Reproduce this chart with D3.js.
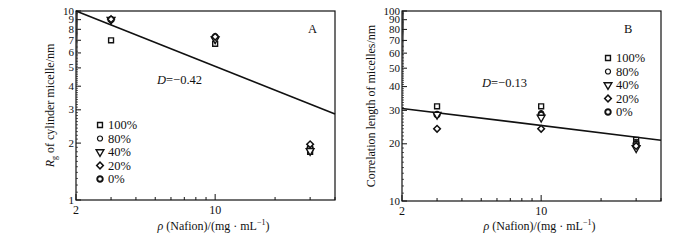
<!DOCTYPE html>
<html>
<head>
<meta charset="utf-8">
<script src="https://cdn.jsdelivr.net/npm/d3@7"></script>
<style>
  body { margin: 0; background: #fff; }
  text { font-family: "Liberation Serif", "Times New Roman", serif; fill: #111; }
</style>
</head>
<body>
<svg id="chart" width="700" height="240"></svg>
<script>
// Nafion concentration (mg/mL)
const conc = [3, 10, 30];
const seriesNames = ['100%', '80%', '40%', '20%', '0%'];

// panel A: Rg of cylinder micelle (nm)
const rg100 = [7.0, 6.7, 1.80];
const rg80  = [9.0, 7.2, 1.85];
const rg40  = [9.0, 7.1, 1.82];
const rg20  = [9.05, 7.3, 1.97];
const rg0   = [9.0, 7.3, 1.88];

// panel B: correlation length of micelles (nm)
const cl100 = [31.5, 31.5, 21.0];
const cl80  = [28.5, 29.0, 20.5];
const cl40  = [28.5, 27.5, 19.0];
const cl20  = [24.0, 24.0, 19.5];
const cl0   = [28.5, 28.5, 20.0];

// fitted power-law lines, end points at x = 2 and x = 40
const fitX = [2, 40];
const fitA = [10, 2.85];
const fitB = [30.7, 20.9];

const xTickLabels = [2, 10];
const yTicksA = [1, 2, 3, 4, 5, 6, 7, 8, 9, 10];
const yTicksB = [10, 20, 30, 40, 50, 60, 70, 80, 90, 100];

const svg = d3.select('#chart');
// square, small circle, down triangle, diamond (rotated square), bold circle
const symbols = [d3.symbolSquare, d3.symbolCircle, d3.symbolTriangle, d3.symbolSquare, d3.symbolCircle];
const sizes = [24, 20, 26, 22, 24];
const rotations = [0, 0, 180, 45, 0];
const strokes = [1.4, 1.2, 1.4, 1.5, 1.9];
const drawOrder = [0, 1, 4, 2, 3];

function marker(sel, i, cx, cy) {
  sel.attr('d', d3.symbol().type(symbols[i]).size(sizes[i]))
    .attr('transform', `translate(${cx},${cy}) rotate(${rotations[i]})`)
    .attr('fill', '#fff').attr('stroke', '#111').attr('stroke-width', strokes[i]);
}

function drawPanel(cfg) {
  const x = d3.scaleLog().domain([2, 40]).range([cfg.left, cfg.right]);
  const y = d3.scaleLog().domain(cfg.yDomain).range([cfg.bottom, cfg.top]);
  const g = svg.append('g');

  // frame
  g.append('rect')
    .attr('x', cfg.left).attr('y', cfg.top)
    .attr('width', cfg.right - cfg.left).attr('height', cfg.bottom - cfg.top)
    .attr('fill', 'none').attr('stroke', '#111').attr('stroke-width', 1.2);

  // x ticks (inward)
  const xMinor = [3, 4, 5, 6, 7, 8, 9, 20, 30, 40];
  g.selectAll('.xminor').data(xMinor).enter().append('line')
    .attr('x1', d => x(d)).attr('x2', d => x(d))
    .attr('y1', cfg.bottom).attr('y2', cfg.bottom - 3)
    .attr('stroke', '#111');
  g.selectAll('.xmajor').data(xTickLabels).enter().append('line')
    .attr('x1', d => x(d)).attr('x2', d => x(d))
    .attr('y1', cfg.bottom).attr('y2', cfg.bottom - 6)
    .attr('stroke', '#111');
  g.selectAll('.xlab').data(xTickLabels).enter().append('text')
    .attr('x', d => x(d)).attr('y', cfg.bottom + 14)
    .attr('text-anchor', 'middle').attr('font-size', 12)
    .text(d => d);

  // y ticks (inward), minor ticks at each tenth of the decade
  const d0 = cfg.yDomain[0];
  const yMinor = d3.range(10, 100).map(k => k * d0 / 10).filter(v => v % d0 !== 0);
  g.selectAll('.yminor').data(yMinor).enter().append('line')
    .attr('x1', cfg.left).attr('x2', cfg.left + 2)
    .attr('y1', d => y(d)).attr('y2', d => y(d))
    .attr('stroke', '#111').attr('stroke-width', 0.7);
  g.selectAll('.ymajor').data(cfg.yTicks).enter().append('line')
    .attr('x1', cfg.left).attr('x2', cfg.left + 5)
    .attr('y1', d => y(d)).attr('y2', d => y(d))
    .attr('stroke', '#111');
  g.selectAll('.ylab').data(cfg.yTicks).enter().append('text')
    .attr('x', cfg.left - 2).attr('y', d => y(d) + 3.5)
    .attr('text-anchor', 'end').attr('font-size', 11)
    .text(d => d);

  // fit line
  g.append('line')
    .attr('x1', x(fitX[0])).attr('y1', y(cfg.fit[0]))
    .attr('x2', x(fitX[1])).attr('y2', y(cfg.fit[1]))
    .attr('stroke', '#111').attr('stroke-width', 1.6);

  // points
  drawOrder.forEach(i => {
    g.selectAll('.pt' + i).data(cfg.series[i]).enter().append('path')
      .each(function(d, j) { marker(d3.select(this), i, x(conc[j]), y(d)); });
  });

  // legend
  seriesNames.forEach((name, i) => {
    const ly = cfg.legendY + i * 13.5;
    marker(g.append('path'), i, cfg.legendX, ly);
    g.append('text')
      .attr('x', cfg.legendX + 8).attr('y', ly + 4)
      .attr('font-size', 12.5).text(name);
  });

  // panel letter and slope
  g.append('text').attr('x', cfg.letterX).attr('y', 33)
    .attr('font-size', 12.5).text(cfg.letter);
  const dt = g.append('text').attr('x', cfg.dX).attr('y', cfg.dY).attr('font-size', 12.5);
  dt.append('tspan').attr('font-style', 'italic').text('D');
  dt.append('tspan').text('=\u2212' + cfg.slope);

  // axis titles
  const xt = g.append('text')
    .attr('x', (cfg.left + cfg.right) / 2 + 8).attr('y', 230)
    .attr('text-anchor', 'middle').attr('font-size', 12);
  xt.append('tspan').attr('font-style', 'italic').text('\u03c1');
  xt.append('tspan').text(' (Nafion)/(mg \u00b7 mL');
  xt.append('tspan').attr('font-size', 8).attr('dy', -5).text('\u22121');
  xt.append('tspan').attr('dy', 5).text(')');

  const yt = g.append('text')
    .attr('transform', `translate(${cfg.yTitleX},${(cfg.top + cfg.bottom) / 2}) rotate(-90)`)
    .attr('text-anchor', 'middle').attr('font-size', 12);
  cfg.yTitle(yt);
}

drawPanel({
  left: 76, right: 335, top: 11, bottom: 200,
  yDomain: [1, 10], yTicks: yTicksA, fit: fitA,
  series: [rg100, rg80, rg40, rg20, rg0],
  legendX: 100, legendY: 125,
  letter: 'A', letterX: 308, dX: 157, dY: 84, slope: '0.42',
  yTitleX: 54,
  yTitle: t => {
    t.append('tspan').attr('font-style', 'italic').text('R');
    t.append('tspan').attr('font-size', 8).attr('dy', 3).text('g');
    t.append('tspan').attr('dy', -3).text(' of cylinder micelle/nm');
  }
});

drawPanel({
  left: 402, right: 661, top: 11, bottom: 201,
  yDomain: [10, 100], yTicks: yTicksB, fit: fitB,
  series: [cl100, cl80, cl40, cl20, cl0],
  legendX: 608, legendY: 58,
  letter: 'B', letterX: 624, dX: 482, dY: 87, slope: '0.13',
  yTitleX: 375,
  yTitle: t => t.text('Correlation length of micelles/nm')
});
</script>
</body>
</html>
